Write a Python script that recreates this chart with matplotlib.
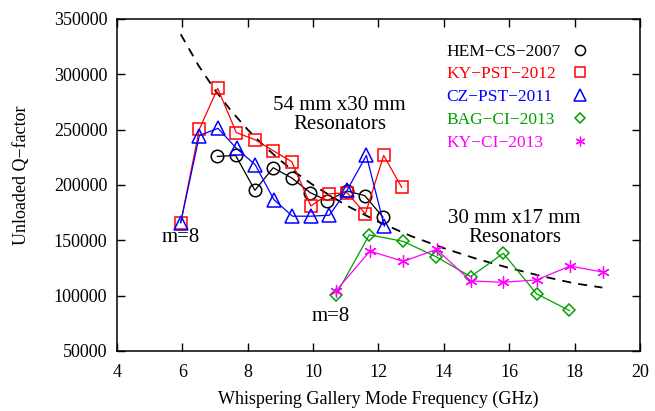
import matplotlib
matplotlib.use("Agg")
import matplotlib.pyplot as plt
from matplotlib.lines import Line2D

plt.rcParams["font.family"] = ["Liberation Serif", "DejaVu Serif"]

# data (frequency in GHz, unloaded Q)
hem_f = [7.07, 7.63, 8.22, 8.78, 9.35, 9.91, 10.44, 11.03, 11.58, 12.14]
hem_q = [225800, 226700, 195200, 215600, 206300, 193100, 185900, 194600, 190400, 170900]

kypst_f = [5.95, 6.52, 7.08, 7.65, 8.23, 8.78, 9.35, 9.93, 10.48, 11.04, 11.60, 12.16, 12.71]
kypst_q = [166000, 250400, 287300, 247400, 240800, 231000, 221000, 181100, 191900, 193100, 173900, 226700, 197900]

czpst_f = [5.95, 6.52, 7.09, 7.66, 8.23, 8.80, 9.37, 9.93, 10.50, 11.05, 11.63, 12.18]
czpst_q = [166000, 244700, 251200, 233000, 218300, 186800, 171800, 171800, 172700, 195800, 226700, 162800]

bag_f = [10.70, 11.72, 12.76, 13.76, 14.82, 15.82, 16.84, 17.84]
bag_q = [100700, 155000, 149000, 135200, 117200, 138200, 101600, 86600]

kyci_f = [10.70, 11.74, 12.76, 13.78, 14.82, 15.82, 16.84, 17.86, 18.86]
kyci_q = [104300, 140300, 131000, 141800, 113300, 112100, 114200, 126800, 121300]

trend_f = [5.95, 6.5, 7.0, 7.5, 8.0, 8.5, 9.0, 9.5, 10.0, 11.0, 12.0, 13.0, 14.0, 15.0, 16.0, 17.0, 18.0, 18.85]
trend_q = [336200, 307700, 285700, 266700, 250000, 235300, 222200, 210500, 200000, 181800,
           166700, 153800, 142900, 133300, 125000, 117600, 111100, 107300]

series = [
    ("HEM\u2212CS\u22122007", hem_f, hem_q, "black", "o", 9),
    ("KY\u2212PST\u22122012", kypst_f, kypst_q, "#ff0000", "s", 9),
    ("CZ\u2212PST\u22122011", czpst_f, czpst_q, "#0000ff", "^", 10),
    ("BAG\u2212CI\u22122013", bag_f, bag_q, "#00a000", "D", 6),
    ("KY\u2212CI\u22122013", kyci_f, kyci_q, "#ff00ff", "*", 9),
]

fig = plt.figure(figsize=(6.55, 4.11), dpi=100)
ax = fig.add_axes([0.1786, 0.146, 0.7984, 0.8078])

ax.plot(trend_f, trend_q, color="black", linestyle=(0, (5, 4)), linewidth=1.3, zorder=1)

handles = []
for label, f, q, color, marker, ms in series:
    if marker == "*":
        ax.plot(f, q, color=color, linewidth=0.9, marker=(6, 2, 0), markersize=ms,
                markeredgewidth=0.9, zorder=2)
        h = Line2D([], [], color=color, linestyle="none", marker=(6, 2, 0),
                   markersize=7, markeredgewidth=0.9)
    else:
        ax.plot(f, q, color=color, linewidth=0.9, marker=marker, markersize=ms,
                markerfacecolor="none", markeredgecolor=color, markeredgewidth=1.1, zorder=2)
        h = Line2D([], [], color=color, linestyle="none", marker=marker,
                   markersize=ms * 0.8, markerfacecolor="none", markeredgewidth=1.1)
    handles.append(h)

# legend: left-aligned labels, markers in a column to their right (two legends)
leg_opts = dict(loc="upper left", frameon=False, fontsize=12.5, labelspacing=0.38,
                borderaxespad=0, borderpad=0.4)
blank = [Line2D([], [], linestyle="none") for _ in series]
leg_text = ax.legend(blank, [s[0] for s in series], bbox_to_anchor=(0.616, 0.947),
                     handlelength=0, handletextpad=0, **leg_opts)
for t, s in zip(leg_text.get_texts(), series):
    t.set_color(s[3])
ax.add_artist(leg_text)
ax.legend(handles, [" "] * len(series), bbox_to_anchor=(0.8555, 0.947),
          handlelength=1.0, handletextpad=0, **leg_opts)

ax.text(10.81, 263000, "54 mm x30 mm\nResonators", ha="center", va="center",
        fontsize=15, linespacing=1.0)
ax.text(16.16, 161500, "30 mm x17 mm\nResonators", ha="center", va="center",
        fontsize=15, linespacing=1.0)
ax.text(5.95, 153000, "m=8", ha="center", va="center", fontsize=15)
ax.text(10.55, 81000, "m=8", ha="center", va="center", fontsize=15)

ax.set_xlim(4, 20)
ax.set_ylim(50000, 350000)
ax.set_xticks(range(4, 21, 2))
ax.set_yticks(range(50000, 350001, 50000))
ax.tick_params(direction="in", length=6, width=1, top=True, right=True, labelsize=13, pad=7)
ax.tick_params(axis="x", pad=9.5)
for sp in ax.spines.values():
    sp.set_linewidth(1.1)

ax.set_xlabel("Whispering Gallery Mode Frequency (GHz)", fontsize=13, labelpad=7)
ax.set_ylabel("Unloaded Q\u2212factor", fontsize=13, labelpad=17, y=0.53)

fig.savefig("out.png", dpi=100)
